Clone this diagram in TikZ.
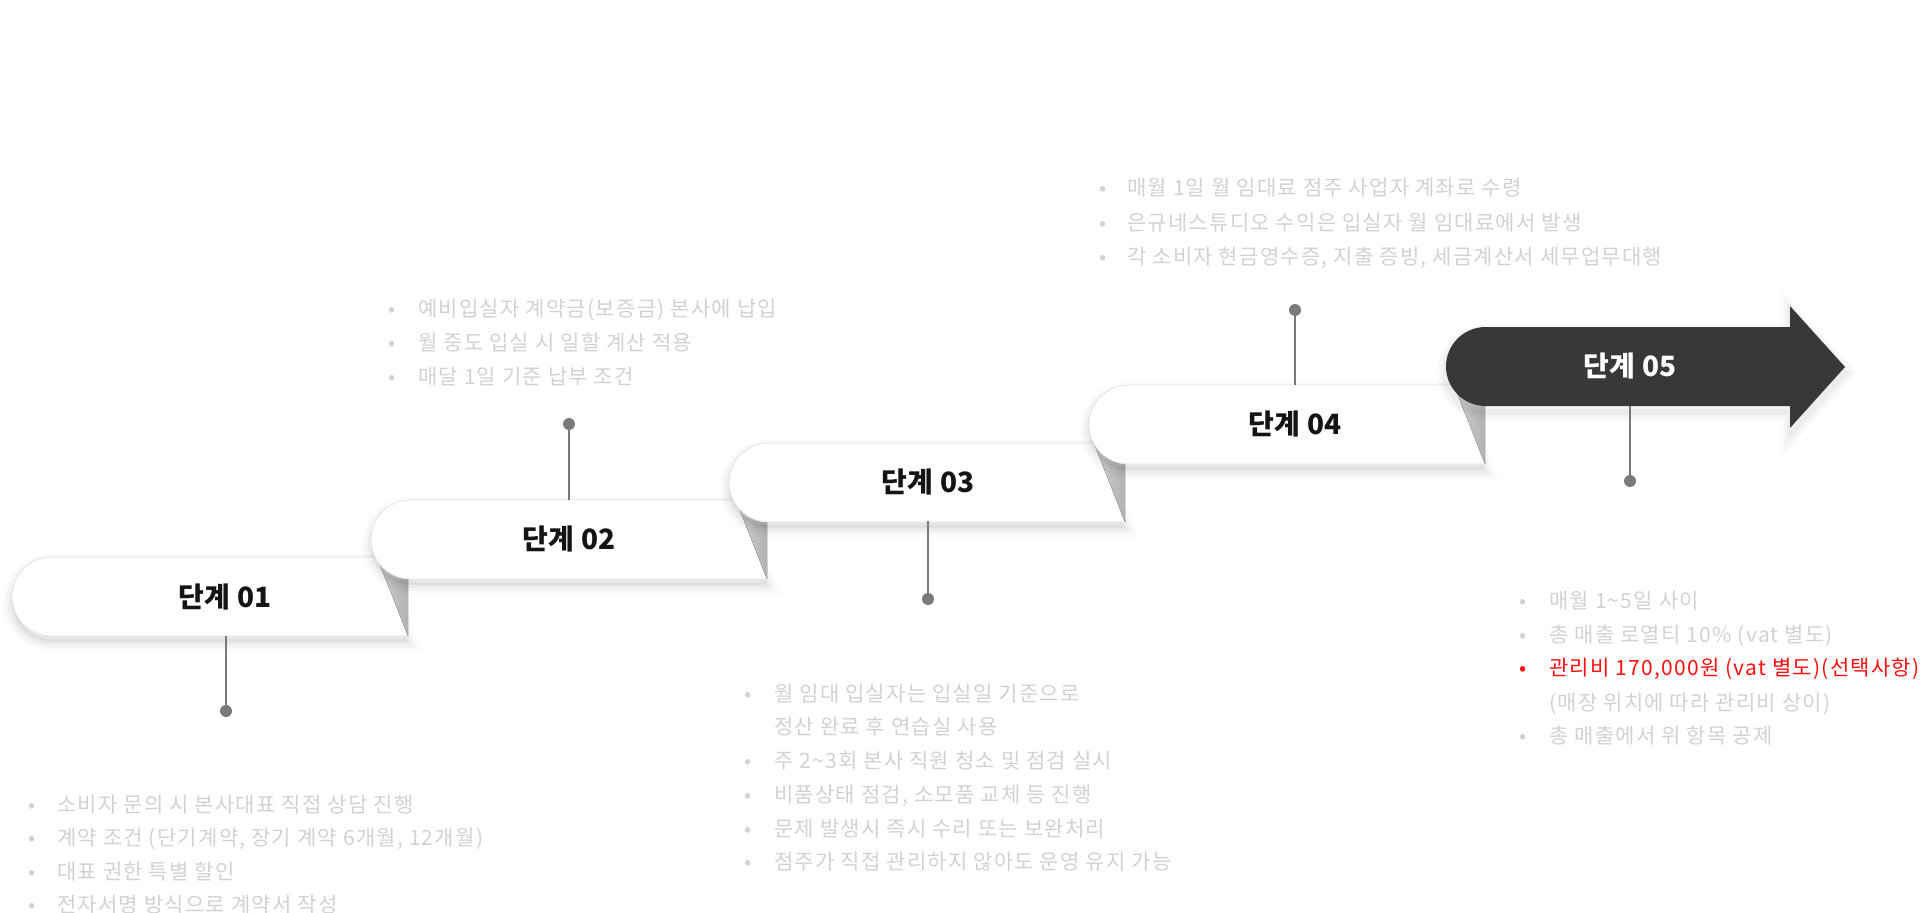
\documentclass[tikz,border=0pt]{standalone}
\usepackage{fontspec}
\setmainfont{Noto Sans CJK KR}
\newfontfamily\listfont[LetterSpace=6]{Noto Sans CJK KR}
\newfontfamily\titlefont[LetterSpace=2]{Noto Sans CJK KR}
\definecolor{listgray}{HTML}{D2D2D2}
\definecolor{conngray}{HTML}{7A7A7A}
\definecolor{darkstep}{HTML}{383838}
\definecolor{redtxt}{HTML}{FF1010}
\definecolor{foldL}{HTML}{D2D2D2}
\definecolor{foldR}{HTML}{B2B2B2}
\definecolor{edgegray}{HTML}{E4E4E4}

\newcommand\stepPath[3]{\path[#1] (#2+39.5,#3) -- (#2+365,#3) -- (#2+396,#3+79) -- (#2+39.5,#3+79) arc[start angle=270,end angle=90,radius=39.5pt] -- cycle;}
\newcommand\arrowPath[1]{\path[#1] (1485.5,327) -- (1790,327) -- (1790,306) -- (1845,367) -- (1790,428) -- (1790,406) -- (1485.5,406) arc[start angle=270,end angle=90,radius=39.5pt] -- cycle;}
\newcommand\stepShadow[2]{%
  \stepPath{draw=black,line width=18pt,draw opacity=0.018,yshift=-6pt}{#1}{#2}
  \stepPath{draw=black,line width=12pt,draw opacity=0.022,yshift=-6pt}{#1}{#2}
  \stepPath{draw=black,line width=6pt,draw opacity=0.03,yshift=-6pt}{#1}{#2}
  \stepPath{fill=black,fill opacity=0.05,yshift=-6pt}{#1}{#2}}
\newcommand\foldTri[2]{\fill[left color=foldL,right color=foldR] (#1+365,#2) -- (#1+396,#2+79) -- (#1+396,#2) -- cycle;}
\newcommand\whiteStep[2]{%
  \stepShadow{#1}{#2}
  \stepPath{fill=white,draw=edgegray,line width=0.8pt}{#1}{#2}
  \foldTri{#1}{#2}}
\newcommand\bitem[6][listgray]{%
  \node[bul,text=#1] (#2b) at (#3,#5+8) {•};
  \node[li,text=#1] (#2) at (#4,#5+8) {#6};}

\tikzset{
  title/.style={anchor=center,inner sep=0pt,font=\titlefont\fontsize{28}{32}\selectfont\bfseries},
  bul/.style={anchor=base,inner sep=0pt,font=\fontsize{21}{25}\selectfont},
  li/.style={anchor=base west,inner sep=0pt,font=\listfont\fontsize{21}{25}\selectfont},
  conn/.style={draw=conngray,line width=2.6pt},
  dot/.style={circle,fill=conngray,inner sep=0pt,minimum size=12pt}
}

\begin{document}
\begin{tikzpicture}[x=1pt,y=-1pt]
\fill[white] (0,0) rectangle (1920,913);
\useasboundingbox (0,0) rectangle (1920,913);

% steps
\whiteStep{12}{557}
\whiteStep{371}{500}
\whiteStep{729}{443}
\whiteStep{1089}{385}
\arrowPath{draw=black,line width=18pt,draw opacity=0.018,yshift=-6pt}
\arrowPath{draw=black,line width=12pt,draw opacity=0.022,yshift=-6pt}
\arrowPath{draw=black,line width=6pt,draw opacity=0.03,yshift=-6pt}
\arrowPath{fill=darkstep}

% titles
\node[title,text=black!92] (t1) at (225,597) {단계 01};
\node[title,text=black!92] (t2) at (569,539) {단계 02};
\node[title,text=black!92] (t3) at (928,482) {단계 03};
\node[title,text=black!92] (t4) at (1295,424) {단계 04};
\node[title,text=white] (t5) at (1630,366) {단계 05};

% connectors
\coordinate (s1) at (226,636);
\coordinate (s2) at (569,500);
\coordinate (s3) at (928,521);
\coordinate (s4) at (1295,385);
\coordinate (s5) at (1630,406);
\node[dot] (d1) at (226,711) {};
\node[dot] (d2) at (569,424) {};
\node[dot] (d3) at (928,599) {};
\node[dot] (d4) at (1295,310) {};
\node[dot] (d5) at (1630,481) {};
\draw[conn] (s1) -- (d1.center);
\draw[conn] (s2) -- (d2.center);
\draw[conn] (s3) -- (d3.center);
\draw[conn] (s4) -- (d4.center);
\draw[conn] (s5) -- (d5.center);

% list 01
\bitem{a1}{32}{57}{804}{소비자 문의 시 본사대표 직접 상담 진행}
\bitem{a2}{32}{57}{837}{계약 조건 (단기계약, 장기 계약 6개월, 12개월)}
\bitem{a3}{32}{57}{871}{대표 권한 특별 할인}
\bitem{a4}{32}{57}{904}{전자서명 방식으로 계약서 작성}

% list 02
\bitem{b1}{392}{418}{308}{예비입실자 계약금(보증금) 본사에 납입}
\bitem{b2}{392}{418}{342}{월 중도 입실 시 일할 계산 적용}
\bitem{b3}{392}{418}{376}{매달 1일 기준 납부 조건}

% list 03
\bitem{c1}{748}{774}{693}{월 임대 입실자는 입실일 기준으로}
\node[li,text=listgray] (c1x) at (774,726+8) {정산 완료 후 연습실 사용};
\bitem{c2}{748}{774}{760}{주 2\textasciitilde 3회 본사 직원 청소 및 점검 실시}
\bitem{c3}{748}{774}{794}{비품상태 점검, 소모품 교체 등 진행}
\bitem{c4}{748}{774}{828}{문제 발생시 즉시 수리 또는 보완처리}
\bitem{c5}{748}{774}{861}{점주가 직접 관리하지 않아도 운영 유지 가능}

% list 04
\bitem{e1}{1103}{1127}{187}{매월 1일 월 임대료 점주 사업자 계좌로 수령}
\bitem{e2}{1103}{1127}{222}{은규네스튜디오 수익은 입실자 월 임대료에서 발생}
\bitem{e3}{1103}{1127}{256}{각 소비자 현금영수증, 지출 증빙, 세금계산서 세무업무대행}

% list 05
\bitem{f1}{1523}{1549}{600}{매월 1\textasciitilde 5일 사이}
\bitem{f2}{1523}{1549}{634}{총 매출 로열티 10\% (vat 별도)}
\bitem[redtxt]{f3}{1523}{1549}{667}{관리비 170,000원 (vat 별도)(선택사항)}
\node[li,text=listgray] (f3x) at (1549,702+8) {(매장 위치에 따라 관리비 상이)};
\bitem{f4}{1523}{1549}{735}{총 매출에서 위 항목 공제}
\end{tikzpicture}
\end{document}
